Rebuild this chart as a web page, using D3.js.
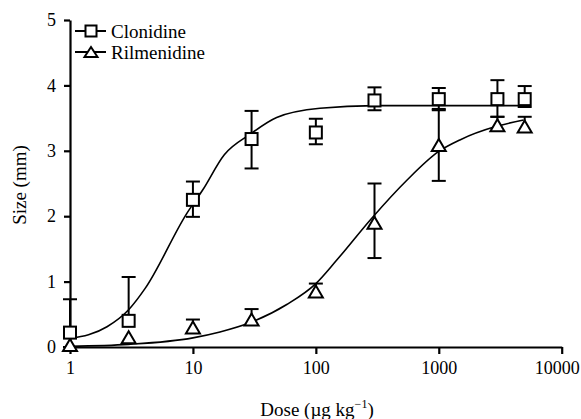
<!DOCTYPE html>
<html>
<head>
<meta charset="utf-8">
<script src="https://cdn.jsdelivr.net/npm/d3@7"></script>
<style>
  html, body { margin: 0; padding: 0; background: #fff; }
  svg { display: block; }
  svg text { font-family: 'Liberation Serif', 'Times New Roman', Times, serif; fill: #000; }
</style>
</head>
<body>
<svg id="chart" width="581" height="419"></svg>
<script>
// ---- data ----
const doses = [1, 3, 10, 30, 100, 300, 1000, 3000, 5000];

const clonidineMean  = [0.22, 0.40, 2.25, 3.18, 3.28, 3.77, 3.79, 3.79, 3.79];
const clonidineUpper = [0.73, 1.07, 2.53, 3.61, 3.49, 3.97, 3.96, 4.08, 3.99];
const clonidineLower = [0.00, 0.40, 1.99, 2.73, 3.10, 3.62, 3.62, 3.52, 3.67];

const rilmenidineMean  = [0.03, 0.15, 0.30, 0.42, 0.85, 1.90, 3.09, 3.39, 3.37];
const rilmenidineUpper = [0.03, 0.15, 0.42, 0.58, 0.97, 2.50, 3.64, 3.52, 3.52];
const rilmenidineLower = [0.03, 0.15, 0.30, 0.42, 0.85, 1.36, 2.54, 3.39, 3.37];

// fitted curves as drawn
const clonidineCurveDose = [1, 2, 3, 4.1, 8.9, 12, 18, 29, 48, 108, 300, 1000, 5000];
const clonidineCurveVal  = [0.13, 0.31, 0.57, 0.90, 2.04, 2.40, 2.94, 3.25, 3.51, 3.65, 3.69, 3.69, 3.69];

const rilmenidineCurveDose = [1, 3, 10, 16.6, 29, 58, 100, 148, 285, 550, 1000, 1500, 2900, 4900];
const rilmenidineCurveVal  = [0.01, 0.04, 0.14, 0.23, 0.37, 0.65, 0.97, 1.33, 1.97, 2.55, 2.99, 3.17, 3.37, 3.47];

const xTicks = [1, 10, 100, 1000, 10000];
const yTicks = [0, 1, 2, 3, 4, 5];
const seriesNames = ["Clonidine", "Rilmenidine"];

// ---- drawing ----
const svg = d3.select("#chart");
const x = d3.scaleLog().domain([1, 10000]).range([70, 561.7]);
const y = d3.scaleLinear().domain([0, 5]).range([347, 20]);

const line = d3.line().x(d => x(d[0])).y(d => y(d[1])).curve(d3.curveMonotoneX);

function curvePts(ds, vs) { return ds.map((d, i) => [d, vs[i]]); }

svg.append("path")
  .attr("d", line(curvePts(clonidineCurveDose, clonidineCurveVal)))
  .attr("fill", "none").attr("stroke", "#000").attr("stroke-width", 1.6);
svg.append("path")
  .attr("d", line(curvePts(rilmenidineCurveDose, rilmenidineCurveVal)))
  .attr("fill", "none").attr("stroke", "#000").attr("stroke-width", 1.6);

// axes
const xAxis = svg.append("g").attr("transform", `translate(0,${y(0)})`)
  .call(d3.axisBottom(x).tickValues(xTicks).tickFormat(d3.format("d"))
    .tickSize(7).tickSizeOuter(0).tickPadding(7));
const yAxis = svg.append("g").attr("transform", `translate(${x(1)},0)`)
  .call(d3.axisLeft(y).tickValues(yTicks).tickFormat(d3.format("d"))
    .tickSize(6).tickSizeOuter(0).tickPadding(8));
[xAxis, yAxis].forEach(g => {
  g.attr("font-family", null);
  g.select(".domain").attr("stroke", "#000").attr("stroke-width", 2.2);
  g.selectAll(".tick line").attr("stroke", "#000").attr("stroke-width", 2.2);
  g.selectAll(".tick text").attr("font-size", 18).attr("fill", "#000");
});
// keep the last tick label inside the frame, as in the reference
xAxis.selectAll(".tick text").filter(d => d === 10000).attr("dx", -5);

// error bars
function errorBars(mean, upper, lower) {
  const g = svg.append("g");
  const cap = 7;
  doses.forEach((d, i) => {
    const cx = x(d);
    if (upper[i] - lower[i] < 0.001) return;
    g.append("line").attr("x1", cx).attr("x2", cx)
      .attr("y1", y(upper[i])).attr("y2", y(lower[i]))
      .attr("stroke", "#000").attr("stroke-width", 2);
    if (upper[i] > mean[i])
      g.append("line").attr("x1", cx - cap).attr("x2", cx + cap)
        .attr("y1", y(upper[i])).attr("y2", y(upper[i]))
        .attr("stroke", "#000").attr("stroke-width", 2);
    if (lower[i] < mean[i])
      g.append("line").attr("x1", cx - cap).attr("x2", cx + cap)
        .attr("y1", y(lower[i])).attr("y2", y(lower[i]))
        .attr("stroke", "#000").attr("stroke-width", 2);
  });
}
errorBars(clonidineMean, clonidineUpper, clonidineLower);
errorBars(rilmenidineMean, rilmenidineUpper, rilmenidineLower);

function square(g, cx, cy, s) {
  g.append("rect").attr("x", cx - s / 2).attr("y", cy - s / 2)
    .attr("width", s).attr("height", s)
    .attr("fill", "#fff").attr("stroke", "#000").attr("stroke-width", 2);
}
function triangle(g, cx, cy, w, h) {
  g.append("path")
    .attr("d", `M${cx - w / 2},${cy + h / 2}L${cx + w / 2},${cy + h / 2}L${cx},${cy - h / 2}Z`)
    .attr("fill", "#fff").attr("stroke", "#000").attr("stroke-width", 2);
}

const markers = svg.append("g");
doses.forEach((d, i) => triangle(markers, x(d), y(rilmenidineMean[i]), 14, 12));
doses.forEach((d, i) => square(markers, x(d), y(clonidineMean[i]), 12));

// legend
const leg = svg.append("g");
[31, 52].forEach((ly, i) => {
  leg.append("line").attr("x1", 75).attr("x2", 106).attr("y1", ly).attr("y2", ly)
    .attr("stroke", "#000").attr("stroke-width", 2);
  if (i === 0) square(leg, 91, ly, 11);
  else triangle(leg, 91, ly, 13, 10);
  leg.append("text").attr("x", 111).attr("y", ly + 6.5)
    .attr("font-size", 19).text(seriesNames[i]);
});

// axis titles
svg.append("text").attr("transform", "translate(26,185) rotate(-90)")
  .attr("text-anchor", "middle").attr("font-size", 19).text("Size (mm)");

const xt = svg.append("text").attr("x", 317).attr("y", 416)
  .attr("text-anchor", "middle").attr("font-size", 19);
xt.append("tspan").text("Dose (µg kg");
xt.append("tspan").attr("dy", -8).attr("font-size", 12).text("−1");
xt.append("tspan").attr("dy", 8).text(")");
</script>
</body>
</html>
